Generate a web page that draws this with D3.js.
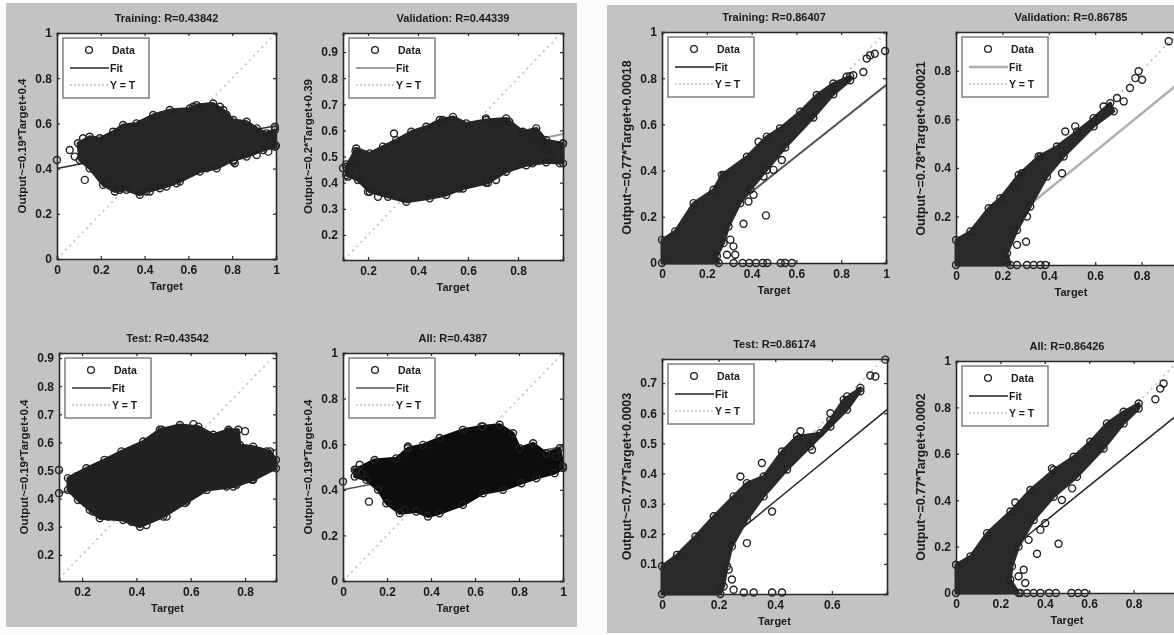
<!DOCTYPE html>
<html>
<head>
<meta charset="utf-8">
<title>Regression plots</title>
<script src="https://cdn.jsdelivr.net/npm/d3@7"></script>
<style>
  html, body { margin: 0; padding: 0; background: #fcfcfc; overflow: hidden; }
  text { font-family: "Liberation Sans", Arial, sans-serif; fill: #1a1a1a; }
  .tick text { font-size: 12px; font-weight: bold; }
  .title { font-size: 11px; font-weight: bold; }
  .xlabel { font-size: 11px; font-weight: bold; }
  .ylabel { font-size: 11.5px; font-weight: bold; }
  .ylabel.wide { font-size: 12.5px; }
  .legend text { font-size: 10.5px; font-weight: bold; }
</style>
</head>
<body>
<script>
/***** Data *****/
var titles = ["Training: R=0.43842", "Validation: R=0.44339", "Test: R=0.43542", "All: R=0.4387",
              "Training: R=0.86407", "Validation: R=0.86785", "Test: R=0.86174", "All: R=0.86426"];
var yLabels = ["Output~=0.19*Target+0.4", "Output~=0.2*Target+0.39", "Output~=0.19*Target+0.4", "Output~=0.19*Target+0.4",
               "Output~=0.77*Target+0.00018", "Output~=0.78*Target+0.00021", "Output~=0.77*Target+0.0003", "Output~=0.77*Target+0.0002"];

var xDomains = [[0, 1], [0.1, 0.98], [0.115, 0.914], [0, 1], [0, 1], [0, 1], [0, 0.795], [0, 1]];
var yDomains = [[0, 1], [0.104, 0.973], [0.107, 0.918], [0, 1], [0, 1], [0, 0.96], [0, 0.78], [0, 1]];

var ticks01 = [0, 0.2, 0.4, 0.6, 0.8, 1];
var ticksMid = [0.2, 0.4, 0.6, 0.8];
var ticksTenths = [0.2, 0.3, 0.4, 0.5, 0.6, 0.7, 0.8, 0.9];
var xTicks = [ticks01, ticksMid, ticksMid, ticks01, ticks01, [0, 0.2, 0.4, 0.6, 0.8], [0, 0.2, 0.4, 0.6], [0, 0.2, 0.4, 0.6, 0.8]];
var yTicks = [ticks01, ticksTenths, ticksTenths, ticks01, ticks01, [0.2, 0.4, 0.6, 0.8],
              [0.1, 0.2, 0.3, 0.4, 0.5, 0.6, 0.7], ticks01];

var fitLines = [
  [[0, 0.4], [1, 0.59]], [[0.1, 0.41], [0.98, 0.586]], [[0.115, 0.42], [0.914, 0.574]], [[0, 0.4], [1, 0.59]],
  [[0, 0], [1, 0.77]], [[0, 0], [1, 0.78]], [[0, 0], [0.795, 0.612]], [[0, 0], [1, 0.77]]
];

// Envelope of the dense part of each cloud, then the lower side back again
var cloudLowTraining = [[0.096,0.512],[0.149,0.541],[0.195,0.534],[0.256,0.563],[0.302,0.593],[0.363,0.6],[0.439,0.637],[0.515,0.659],[0.607,0.666],[0.637,0.681],[0.713,0.688],[0.759,0.659],[0.805,0.615],[0.866,0.607],[0.912,0.578],[0.957,0.556],[0.995,0.571],
  [0.995,0.497],[0.942,0.482],[0.866,0.453],[0.805,0.438],[0.729,0.401],[0.652,0.387],[0.561,0.343],[0.5,0.321],[0.409,0.299],[0.378,0.284],[0.317,0.306],[0.264,0.299],[0.21,0.328],[0.149,0.401],[0.104,0.438]];
var cloudLowValidation = [[0.113,0.461],[0.153,0.531],[0.207,0.512],[0.26,0.538],[0.313,0.563],[0.373,0.595],[0.433,0.614],[0.487,0.64],[0.54,0.652],[0.593,0.627],[0.673,0.64],[0.753,0.646],[0.82,0.595],[0.873,0.608],[0.913,0.563],[0.98,0.55],
  [0.98,0.474],[0.913,0.478],[0.833,0.467],[0.753,0.442],[0.68,0.4],[0.58,0.378],[0.513,0.353],[0.447,0.34],[0.353,0.327],[0.28,0.346],[0.207,0.365],[0.16,0.41],[0.113,0.429]];
var cloudLowTest = [[0.148,0.473],[0.216,0.508],[0.283,0.538],[0.345,0.568],[0.425,0.603],[0.486,0.645],[0.56,0.662],[0.628,0.656],[0.683,0.627],[0.739,0.645],[0.775,0.645],[0.781,0.591],[0.83,0.585],[0.892,0.568],[0.914,0.538],
  [0.914,0.508],[0.83,0.467],[0.757,0.443],[0.659,0.431],[0.579,0.384],[0.499,0.336],[0.413,0.3],[0.351,0.324],[0.265,0.33],[0.228,0.36],[0.185,0.395],[0.148,0.431]];
var cloudLowAll = [[0.053,0.488],[0.144,0.531],[0.242,0.538],[0.295,0.582],[0.364,0.597],[0.439,0.627],[0.545,0.663],[0.629,0.678],[0.712,0.685],[0.773,0.648],[0.803,0.582],[0.864,0.604],[0.924,0.56],[0.985,0.582],[1,0.502],
  [1,0.495],[0.962,0.473],[0.879,0.451],[0.811,0.429],[0.727,0.4],[0.636,0.385],[0.545,0.334],[0.439,0.297],[0.386,0.283],[0.333,0.305],[0.258,0.297],[0.197,0.341],[0.159,0.4],[0.106,0.444],[0.053,0.458]];
var cloudHighTraining = [[0,0.1],[0.059,0.137],[0.141,0.259],[0.23,0.317],[0.267,0.381],[0.379,0.46],[0.468,0.547],[0.527,0.583],[0.617,0.655],[0.691,0.727],[0.765,0.777],[0.84,0.809],
  [0.84,0.791],[0.765,0.73],[0.676,0.63],[0.55,0.5],[0.468,0.403],[0.394,0.317],[0.349,0.259],[0.297,0.158],[0.275,0.086],[0.245,0.029],[0.253,0],[0,0]];
var cloudHighValidation = [[0,0.103],[0.062,0.138],[0.141,0.234],[0.191,0.275],[0.27,0.371],[0.356,0.447],[0.435,0.488],[0.522,0.55],[0.593,0.605],[0.665,0.667],
  [0.68,0.633],[0.593,0.571],[0.464,0.447],[0.392,0.365],[0.32,0.241],[0.263,0.144],[0.22,0.048],[0.234,0],[0,0]];
var cloudHighTest = [[0,0.092],[0.053,0.13],[0.118,0.191],[0.183,0.258],[0.253,0.324],[0.3,0.368],[0.359,0.39],[0.424,0.473],[0.477,0.523],[0.559,0.534],[0.595,0.578],[0.642,0.645],[0.701,0.684],
  [0.701,0.673],[0.654,0.612],[0.595,0.556],[0.524,0.49],[0.442,0.413],[0.359,0.324],[0.3,0.247],[0.247,0.158],[0.23,0.092],[0.218,0.025],[0.206,0],[0,0]];
var cloudHighAll = [[0,0.122],[0.065,0.158],[0.14,0.258],[0.245,0.351],[0.335,0.444],[0.44,0.53],[0.53,0.587],[0.605,0.652],[0.68,0.731],[0.755,0.781],[0.823,0.817],
  [0.823,0.795],[0.755,0.731],[0.665,0.623],[0.545,0.501],[0.44,0.415],[0.35,0.315],[0.282,0.2],[0.252,0.115],[0.245,0.057],[0.282,0],[0,0]];
var clouds = [cloudLowTraining, cloudLowValidation, cloudLowTest, cloudLowAll, cloudHighTraining, cloudHighValidation, cloudHighTest, cloudHighAll];

// Points on the rim and clear of the clouds
var outliers = [
  [[0,0.438],[0.127,0.35],[0.058,0.482],[0.812,0.424],[0.98,0.53],[0.97,0.55],[0.973,0.526],[1,0.501],[0.965,0.475],[0.995,0.585],[0.081,0.453],[0.119,0.534],[0.622,0.674],[0.652,0.67],[0.744,0.674],[0.774,0.637],[0.226,0.343],[0.287,0.306],[0.424,0.299],[0.47,0.313],[0.546,0.335],[0.683,0.401],[0.805,0.431],[0.912,0.46]],
  [[0.304,0.588],[0.113,0.47],[0.125,0.44],[0.967,0.474],[0.98,0.55],[0.93,0.5],[0.15,0.52],[0.858,0.474],[0.818,0.474],[0.712,0.41],[0.672,0.4],[0.898,0.55],[0.911,0.525],[0.858,0.576],[0.818,0.589],[0.765,0.633],[0.712,0.627],[0.672,0.646],[0.499,0.64],[0.472,0.62],[0.153,0.474],[0.173,0.429],[0.2,0.365],[0.24,0.346],[0.1,0.455],[0.12,0.423],[0.565,0.378]],
  [[0.115,0.502],[0.115,0.419],[0.8,0.64],[0.61,0.665],[0.179,0.479],[0.493,0.645],[0.739,0.639],[0.88,0.568],[0.825,0.467],[0.769,0.449],[0.732,0.443],[0.585,0.39],[0.511,0.336],[0.437,0.306],[0.382,0.318],[0.24,0.354],[0.296,0.336]],
  [[0,0.436],[0.118,0.348],[0.06,0.488],[0.076,0.51],[0.083,0.473],[0.636,0.678],[0.295,0.59],[0.97,0.546],[0.28,0.312]],
  [[0.32,0],[0.36,0],[0.39,0],[0.42,0],[0.45,0],[0.47,0],[0.53,0],[0.55,0],[0.58,0],[0.364,0.17],[0.464,0.206],[0.386,0.266],[0.305,0.101],[0.319,0.072],[0.29,0.036],[0.327,0.036],[0.409,0.295],[0.453,0.374],[0.498,0.403],[0.535,0.446],[0.929,0.899],[0.914,0.885],[0.996,0.918],[0.95,0.906],[0.899,0.827],[0.854,0.813],[0.825,0.806],[0.275,0.381],[0.431,0.525]],
  [[0.263,0],[0.306,0],[0.335,0],[0.364,0],[0.385,0],[0.302,0.096],[0.263,0.083],[0.249,0.144],[0.306,0.2],[0.787,0.798],[0.773,0.77],[0.75,0.729],[0.802,0.763],[0.694,0.688],[0.636,0.653],[0.723,0.674],[0.471,0.55],[0.514,0.571],[0.364,0.447],[0.917,0.922],[0.457,0.378],[0.256,0.316],[0.284,0.378]],
  [[0.253,0.014],[0.289,0.005],[0.324,0.005],[0.389,0.005],[0.424,0.005],[0.277,0.39],[0.353,0.435],[0.389,0.274],[0.3,0.169],[0.236,0.081],[0.247,0.048],[0.736,0.725],[0.754,0.722],[0.789,0.778],[0.489,0.54],[0.53,0.479],[0.595,0.6],[0.654,0.656]],
  [[0.29,0],[0.32,0],[0.35,0],[0.38,0],[0.42,0],[0.45,0],[0.52,0],[0.55,0],[0.58,0],[0.462,0.212],[0.365,0.169],[0.38,0.272],[0.402,0.301],[0.305,0.1],[0.282,0.072],[0.312,0.043],[0.327,0.229],[0.898,0.835],[0.935,0.903],[0.92,0.881],[0.477,0.401],[0.523,0.451],[0.432,0.537],[0.267,0.39]]
];

/***** Layout *****/
var frames = [
  {x0: 57, x1: 276, y0: 33, y1: 259},
  {x0: 343, x1: 563, y0: 33, y1: 260},
  {x0: 59, x1: 276, y0: 353, y1: 581},
  {x0: 343, x1: 563, y0: 353, y1: 581},
  {x0: 662, x1: 886, y0: 32, y1: 263},
  {x0: 956, x1: 1188, y0: 32, y1: 265},
  {x0: 662, x1: 887, y0: 359, y1: 594},
  {x0: 956, x1: 1178, y0: 361, y1: 593}
];
var fitColors = ["#2a2a2a", "#a0a0a0", "#666666", "#555555", "#555555", "#b0b0b0", "#222222", "#222222"];
var fitWidths = [1.5, 2, 2, 1.5, 2, 2.5, 1.5, 1.5];
var cloudColors = ["#262626", "#262626", "#222222", "#0c0c0c", "#2c2c2c", "#2c2c2c", "#2c2c2c", "#2c2c2c"];

var svg = d3.select("body").append("svg")
  .attr("width", 1174)
  .attr("height", 635);

// the original is a scan, so everything is a little soft
svg.append("defs").append("filter")
  .attr("id", "scan")
  .append("feGaussianBlur")
  .attr("stdDeviation", 0.6);

var root = svg.append("g").attr("filter", "url(#scan)");

// grey figure backgrounds
root.append("rect").attr("x", 6).attr("y", 3).attr("width", 571).attr("height", 624).attr("fill", "#c3c3c3");
root.append("rect").attr("x", 607).attr("y", 5).attr("width", 567).attr("height", 628).attr("fill", "#c3c3c3");

frames.forEach(function (f, i) {
  var x = d3.scaleLinear().domain(xDomains[i]).range([f.x0, f.x1]);
  var y = d3.scaleLinear().domain(yDomains[i]).range([f.y1, f.y0]);
  var g = root.append("g");

  g.append("rect")
    .attr("x", f.x0).attr("y", f.y0)
    .attr("width", f.x1 - f.x0).attr("height", f.y1 - f.y0)
    .attr("fill", "#ffffff");

  // Y = T, clipped to the axes
  var lo = Math.max(xDomains[i][0], yDomains[i][0]);
  var hi = Math.min(xDomains[i][1], yDomains[i][1]);
  g.append("line")
    .attr("x1", x(lo)).attr("y1", y(lo))
    .attr("x2", x(hi)).attr("y2", y(hi))
    .attr("stroke", "#c4c4c4").attr("stroke-width", 1.8).attr("stroke-dasharray", "2 4");

  g.append("line")
    .attr("x1", x(fitLines[i][0][0])).attr("y1", y(fitLines[i][0][1]))
    .attr("x2", x(fitLines[i][1][0])).attr("y2", y(fitLines[i][1][1]))
    .attr("stroke", fitColors[i]).attr("stroke-width", fitWidths[i]);

  var cloudPath = d3.line()
    .x(function (d) { return x(d[0]); })
    .y(function (d) { return y(d[1]); })
    .curve(d3.curveLinearClosed);

  g.append("path")
    .attr("d", cloudPath(clouds[i]))
    .attr("fill", cloudColors[i])
    .attr("stroke", cloudColors[i])
    .attr("stroke-width", 3)
    .attr("stroke-linejoin", "round");

  g.selectAll("circle.mark")
    .data(clouds[i].concat(outliers[i]))
    .enter().append("circle")
    .attr("class", "mark")
    .attr("cx", function (d) { return x(d[0]); })
    .attr("cy", function (d) { return y(d[1]); })
    .attr("r", 3.5)
    .attr("fill", "none")
    .attr("stroke", "#222222")
    .attr("stroke-width", 1.4);

  // frame and inward ticks on all four sides
  var tickLen = 3;
  g.append("g").attr("transform", "translate(0," + f.y1 + ")")
    .call(d3.axisBottom(x).tickValues(xTicks[i]).tickSize(-tickLen).tickPadding(6).tickFormat(function (d) { return d; }));
  g.append("g").attr("transform", "translate(" + f.x0 + ",0)")
    .call(d3.axisLeft(y).tickValues(yTicks[i]).tickSize(-tickLen).tickPadding(5).tickFormat(function (d) { return d; }));
  g.append("g").attr("transform", "translate(0," + f.y0 + ")")
    .call(d3.axisTop(x).tickValues(xTicks[i]).tickSize(-tickLen).tickFormat(""));
  g.append("g").attr("transform", "translate(" + f.x1 + ",0)")
    .call(d3.axisRight(y).tickValues(yTicks[i]).tickSize(-tickLen).tickFormat(""));
  g.selectAll(".domain").attr("stroke", "#2a2a2a").attr("stroke-width", 1.6);
  g.selectAll(".tick line").attr("stroke", "#2a2a2a").attr("stroke-width", 1.2);

  g.append("text")
    .attr("class", "title")
    .attr("x", (f.x0 + Math.min(f.x1, 1186)) / 2)
    .attr("y", f.y0 - 11)
    .attr("text-anchor", "middle")
    .text(titles[i]);

  g.append("text")
    .attr("class", "xlabel")
    .attr("x", (f.x0 + Math.min(f.x1, 1186)) / 2)
    .attr("y", f.y1 + 31)
    .attr("text-anchor", "middle")
    .text("Target");

  g.append("text")
    .attr("class", i >= 4 ? "ylabel wide" : "ylabel")
    .attr("transform", "translate(" + (f.x0 - 31) + "," + ((f.y0 + f.y1) / 2) + ") rotate(-90)")
    .attr("text-anchor", "middle")
    .text(yLabels[i]);

  // legend
  var lx = f.x0 + 6, ly = f.y0 + 5;
  var legend = g.append("g").attr("class", "legend").attr("transform", "translate(" + lx + "," + ly + ")");
  legend.append("rect")
    .attr("width", 86).attr("height", 60)
    .attr("fill", "#ffffff").attr("stroke", "#888888").attr("stroke-width", 1.6);
  legend.append("circle")
    .attr("cx", 26).attr("cy", 12).attr("r", 3.4)
    .attr("fill", "none").attr("stroke", "#222222").attr("stroke-width", 1.3);
  legend.append("line")
    .attr("x1", 7).attr("x2", 46).attr("y1", 30).attr("y2", 30)
    .attr("stroke", fitColors[i]).attr("stroke-width", fitWidths[i]);
  legend.append("line")
    .attr("x1", 7).attr("x2", 46).attr("y1", 47).attr("y2", 47)
    .attr("stroke", "#c4c4c4").attr("stroke-width", 1.4).attr("stroke-dasharray", "2 2");
  legend.selectAll("text")
    .data(["Data", "Fit", "Y = T"])
    .enter().append("text")
    .attr("x", function (d, j) { return j === 0 ? 49 : 47; })
    .attr("y", function (d, j) { return 16 + j * 17.5; })
    .text(function (d) { return d; });
});
</script>
</body>
</html>
